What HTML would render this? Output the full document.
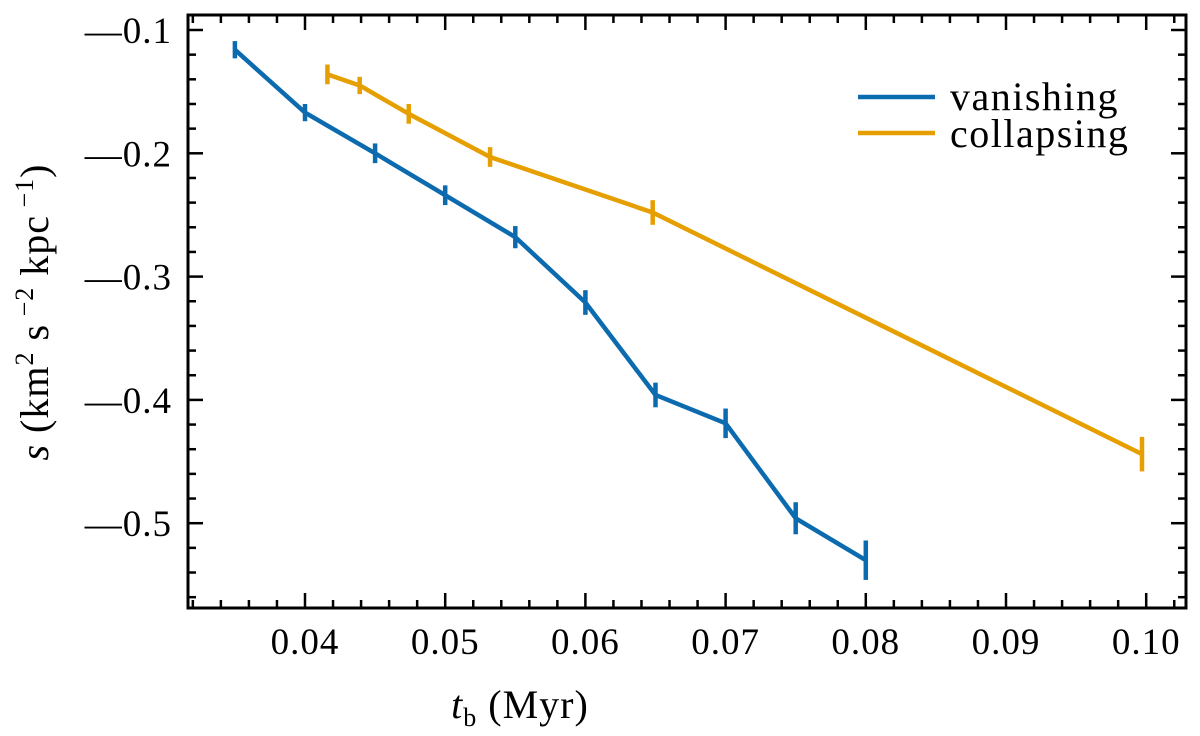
<!DOCTYPE html>
<html><head><meta charset="utf-8"><style>
body{margin:0;background:#fff;}
svg text{font-family:"Liberation Serif",serif;fill:#000;}
</style></head><body>
<svg id="chart" width="1200" height="731" xmlns="http://www.w3.org/2000/svg">
<g id="plot"></g>
</svg>
<script>
const xTicks=[0.04,0.05,0.06,0.07,0.08,0.09,0.10];
const xTickLabels=["0.04","0.05","0.06","0.07","0.08","0.09","0.10"];
const yTicks=[-0.1,-0.2,-0.3,-0.4,-0.5];
const yTickLabels=["\u20140.1","\u20140.2","\u20140.3","\u20140.4","\u20140.5"];
const vanX=[0.035,0.04,0.045,0.05,0.055,0.06,0.065,0.07,0.075,0.08];
const vanY=[-0.116,-0.167,-0.200,-0.234,-0.268,-0.321,-0.396,-0.419,-0.496,-0.530];
const vanErr=[0.007,0.007,0.008,0.008,0.009,0.010,0.010,0.012,0.013,0.016];
const colX=[0.0416,0.0439,0.0474,0.0532,0.0648,0.0997];
const colY=[-0.136,-0.145,-0.168,-0.203,-0.248,-0.444];
const colErr=[0.008,0.007,0.008,0.008,0.010,0.014];

const L=188,R=1186,T=15,B=608;
const x0=0.04,xpx0=305,xScale=14020;
const y0=-0.1,ypx0=30,yScale=1233;
const X=v=>xpx0+(v-x0)*xScale;
const Y=v=>ypx0+(y0-v)*yScale;
const NS="http://www.w3.org/2000/svg";
const g=document.getElementById('plot');
function mk(tag,attrs,parent){const e=document.createElementNS(NS,tag);for(const k in attrs)e.setAttribute(k,attrs[k]);(parent||g).appendChild(e);return e;}

const ticks=mk('g',{});


for(let i=0;i<=80;i++){const v=0.032+i*0.002;const px=X(v);if(px<L+1||px>R-1)continue;
  const major=Math.abs(Math.round(v*100)-v*100)<1e-6;const len=major?15:8;
  mk('line',{x1:px,x2:px,y1:B,y2:B-len,stroke:'#000','stroke-width':2.5},ticks);
  mk('line',{x1:px,x2:px,y1:T,y2:T+len,stroke:'#000','stroke-width':2.5},ticks);}
for(let i=0;i<=40;i++){const v=-0.08-i*0.02;const py=Y(v);if(py<T+1||py>B-1)continue;
  const major=Math.abs(Math.round(v*10)-v*10)<1e-6;const len=major?15:8;
  mk('line',{x1:L,x2:L+len,y1:py,y2:py,stroke:'#000','stroke-width':2.5},ticks);
  mk('line',{x1:R,x2:R-len,y1:py,y2:py,stroke:'#000','stroke-width':2.5},ticks);}

xTicks.forEach((v,i)=>{const t=mk('text',{x:X(v),y:654,'font-size':37,'text-anchor':'middle','letter-spacing':1});t.textContent=xTickLabels[i];

});
yTicks.forEach((v,i)=>{const t=mk('text',{x:172,y:Y(v)+13,'font-size':37,'text-anchor':'end','letter-spacing':1});t.textContent=yTickLabels[i];

});

function series(xs,ys,es,color,name){
  const s=mk('g',{});
  
  
  mk('polyline',{points:xs.map((v,i)=>X(v)+','+Y(ys[i])).join(' '),fill:'none',stroke:color,'stroke-width':4.5,'stroke-linejoin':'round'},s);
  xs.forEach((v,i)=>{const b=mk('line',{x1:X(v),x2:X(v),y1:Y(ys[i]+es[i]),y2:Y(ys[i]-es[i]),stroke:color,'stroke-width':4.5},s);
    
    });
}
series(vanX,vanY,vanErr,'#0C6BAF','vanishing');
series(colX,colY,colErr,'#E69F00','collapsing');

const f=mk('rect',{x:L,y:T,width:R-L,height:B-T,fill:'none',stroke:'#000','stroke-width':3});



const lg=mk('g',{});


mk('line',{x1:858,x2:935,y1:97,y2:97,stroke:'#0C6BAF','stroke-width':4.5},lg);
mk('line',{x1:858,x2:935,y1:133,y2:133,stroke:'#E69F00','stroke-width':4.5},lg);
const l1=mk('text',{x:950,y:110,'font-size':40,'letter-spacing':1.5},lg);l1.textContent='vanishing';


const l2=mk('text',{x:950,y:147,'font-size':40,'letter-spacing':1.5},lg);l2.textContent='collapsing';



const xt=mk('text',{x:520,y:718,'font-size':40,'text-anchor':'middle','letter-spacing':1});
xt.innerHTML='<tspan font-style="italic">t</tspan><tspan font-size="26" dy="8">b</tspan><tspan dy="-8"> (Myr)</tspan>';


const yt=mk('text',{x:0,y:0,'font-size':40,'text-anchor':'middle','letter-spacing':1,transform:'translate(48,312) rotate(-90)'});
yt.innerHTML='<tspan font-style="italic">s</tspan> (km<tspan font-size="26" dy="-15">2</tspan><tspan dy="15"> s</tspan><tspan font-size="26" dy="-15"> \u22122</tspan><tspan dy="15"> kpc</tspan><tspan font-size="26" dy="-15"> \u22121</tspan><tspan dy="15">)</tspan>';


</script>
</body></html>
